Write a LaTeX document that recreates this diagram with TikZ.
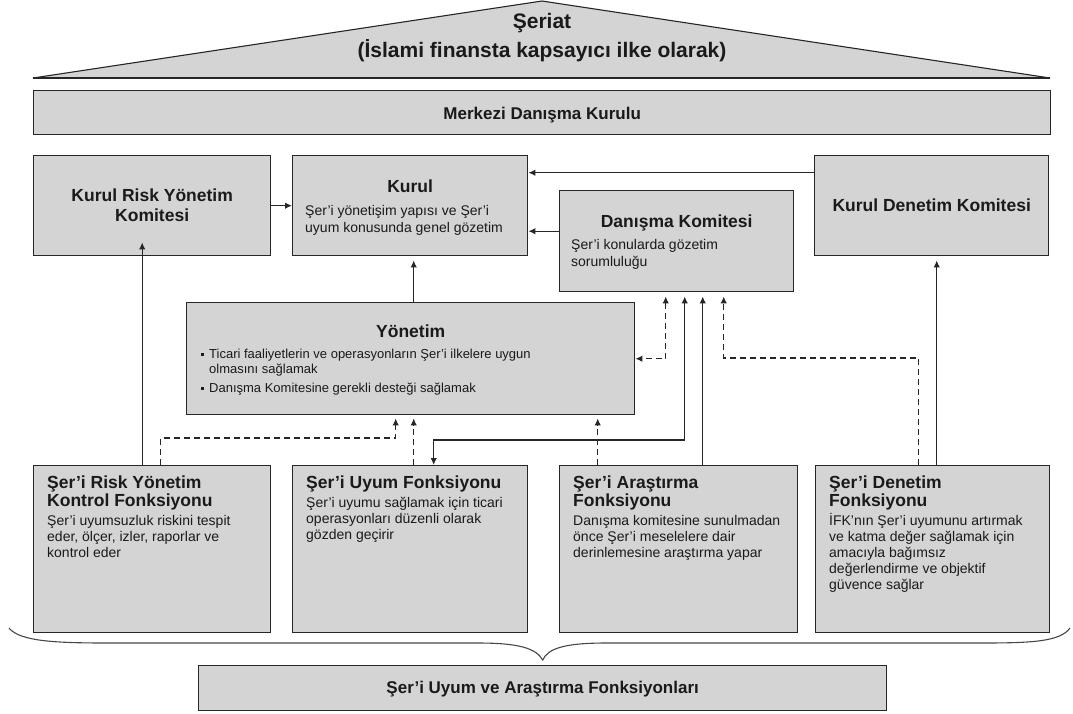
\documentclass[tikz,border=0pt]{standalone}
\usepackage{fontspec}
\setmainfont{Liberation Sans}
\usetikzlibrary{arrows.meta,calc}
\definecolor{boxgray}{HTML}{D4D4D4}
\definecolor{linegray}{HTML}{262626}
\definecolor{textgray}{HTML}{1A1A1A}
\newcommand{\bul}{\makebox[8pt][l]{\raisebox{2.5pt}{\rule{2.6pt}{2.6pt}}}}

\begin{document}
\begin{tikzpicture}[x=1pt,y=-1pt,
    >={Latex[length=7pt,width=6.5pt]},
    box/.style={draw=linegray, fill=boxgray, line width=1.4pt, inner sep=0pt, anchor=north west},
    head/.style={font=\fontsize{17.5}{20}\selectfont\bfseries, text=textgray, inner sep=0pt},
    fhead/.style={head, font=\fontsize{17.5}{18.5}\selectfont\bfseries, align=left, anchor=north west},
    body/.style={font=\fontsize{14}{16}\selectfont, text=textgray, inner sep=0pt, align=left, anchor=north west},
    link/.style={draw=linegray, line width=1.3pt, ->},
    dlink/.style={link, dash pattern=on 6pt off 4pt}]
    \useasboundingbox (0,0) rectangle (1073,713);

    % roof
    \filldraw[fill=boxgray, draw=linegray, line width=1.1pt] (33,78) -- (542,1) -- (1050,78) -- cycle;
    \draw[linegray, line width=2pt] (33,78) -- (1050,78);
    \node[head, anchor=base, font=\fontsize{21}{24}\selectfont\bfseries] (seriat) at (542,28.5) {Şeriat};
    \node[head, anchor=base, font=\fontsize{21}{24}\selectfont\bfseries] (kapsam) at (542,57) {(İslami finansta kapsayıcı ilke olarak)};

    \node[box, minimum width=1017pt, minimum height=44pt] (mdk) at (33,90) {};
    \node[head, anchor=base, font=\fontsize{17}{20}\selectfont\bfseries] at ($(mdk.north)+(0,29)$) {Merkezi Danışma Kurulu};

    % upper row
    \node[box, minimum width=237pt, minimum height=100pt] (krk) at (33,155) {};
    \node[box, minimum width=235pt, minimum height=100pt] (kurul) at (292,155) {};
    \node[box, minimum width=234pt, minimum height=100pt] (kdk) at (814,155) {};
    \node[box, minimum width=234pt, minimum height=101pt] (dk) at (559,190) {};
    \node[box, minimum width=448pt, minimum height=112pt] (yon) at (186,302) {};

    \node[head, align=center, anchor=north] at ($(krk.north)+(0,30)$) {\rule{0pt}{16pt}Kurul Risk Yönetim\\Komitesi};
    \node[head, anchor=base] at ($(kurul.north)+(0,37)$) {Kurul};
    \node[body, font=\fontsize{14}{17.5}\selectfont] at ($(kurul.north west)+(13,47)$) {\rule{0pt}{13pt}Şer’i yönetişim yapısı ve Şer’i\\uyum konusunda genel gözetim};
    \node[head, anchor=base] at ($(kdk.north)+(0,56)$) {Kurul Denetim Komitesi};
    \node[head, anchor=base] at ($(dk.north)+(0,37)$) {Danışma Komitesi};
    \node[body, font=\fontsize{14}{17}\selectfont] at ($(dk.north west)+(12,46)$) {\rule{0pt}{13pt}Şer’i konularda gözetim\\sorumluluğu};
    \node[head, anchor=base] at ($(yon.north)+(0,35)$) {Yönetim};
    \node[body, font=\fontsize{13}{15}\selectfont] at ($(yon.north west)+(15,43)$) {\rule{0pt}{13pt}\bul Ticari faaliyetlerin ve operasyonların Şer’i ilkelere uygun\\\hspace*{8pt}olmasını sağlamak\\[4pt]\bul Danışma Komitesine gerekli desteği sağlamak};

    % functions
    \node[box, minimum width=237pt, minimum height=167pt] (rkf) at (33,465) {};
    \node[box, minimum width=235pt, minimum height=167pt] (ufk) at (292,465) {};
    \node[box, minimum width=238pt, minimum height=167pt] (akf) at (559,465) {};
    \node[box, minimum width=234pt, minimum height=167pt] (dkf) at (815,465) {};

    \node[fhead] at ($(rkf.north west)+(14,7)$) {\rule{0pt}{16pt}Şer’i Risk Yönetim\\Kontrol Fonksiyonu};
    \node[body] at ($(rkf.north west)+(14,47)$) {\rule{0pt}{13pt}Şer’i uyumsuzluk riskini tespit\\eder, ölçer, izler, raporlar ve\\kontrol eder};
    \node[fhead] at ($(ufk.north west)+(14,7)$) {\rule{0pt}{16pt}Şer’i Uyum Fonksiyonu};
    \node[body] at ($(ufk.north west)+(14,29)$) {\rule{0pt}{13pt}Şer’i uyumu sağlamak için ticari\\operasyonları düzenli olarak\\gözden geçirir};
    \node[fhead] at ($(akf.north west)+(14,7)$) {\rule{0pt}{16pt}Şer’i Araştırma\\Fonksiyonu};
    \node[body] at ($(akf.north west)+(14,47)$) {\rule{0pt}{13pt}Danışma komitesine sunulmadan\\önce Şer’i meselelere dair\\derinlemesine araştırma yapar};
    \node[fhead] at ($(dkf.north west)+(14,7)$) {\rule{0pt}{16pt}Şer’i Denetim\\Fonksiyonu};
    \node[body] at ($(dkf.north west)+(14,47)$) {\rule{0pt}{13pt}İFK’nın Şer’i uyumunu artırmak\\ve katma değer sağlamak için\\amacıyla bağımsız\\değerlendirme ve objektif\\güvence sağlar};

    \node[box, minimum width=688pt, minimum height=45pt] (uaf) at (198,665) {};
    \node[head, anchor=base, font=\fontsize{17}{20}\selectfont\bfseries] at ($(uaf.north)+(0,28)$) {Şer’i Uyum ve Araştırma Fonksiyonları};

    % brace
    \draw[linegray!85, line width=1.1pt] (1070,628) .. controls (1060,642) and (1030,643) .. (980,643) -- (606,643)
        .. controls (566,643) and (548,648) .. ($(uaf.north)+(0,-5)$)
        .. controls (536,648) and (518,643) .. (478,643) -- (110,643) .. controls (60,643) and (20,642) .. (9,628);

    % connectors
    \draw[link] ($(rkf.north)+(-10,0)$) -- ($(krk.south)+(-10,-14)$);
    \draw[link] (krk.east) -- (kurul.west);
    \draw[link] ($(kdk.west)+(0,-33)$) -- ($(kurul.east)+(0,-33)$);
    \draw[link] ($(dk.west)+(0,-10)$) -- ($(kurul.east)+(0,25.5)$);
    \draw[link, shorten >=4pt] ($(yon.north)+(3,0)$) -- ($(kurul.south)+(3.5,0)$);
    \draw[link, shorten >=4pt] ($(dkf.north)+(4,0)$) -- ($(kdk.south)+(5,0)$);
    \draw[dlink, shorten >=3pt] ($(rkf.north)+(8.5,0)$) -- ++(0,-27) -| ($(yon.south)+(-15,0)$);
    \draw[dlink, shorten >=3pt] ($(ufk.north)+(3.5,0)$) -- ($(yon.south)+(3,0)$);
    \draw[link, <->, shorten <=4pt] ($(dk.south)+(8,0)$) |- ($(ufk.north)+(23.5,-25)$) -- ($(ufk.north)+(23.5,0)$);
    \draw[dlink, <->, shorten <=4pt] ($(dk.south)+(-11,0)$) |- (yon.east);
    \draw[link, shorten >=4pt] ($(akf.north)+(24,0)$) -- ($(dk.south)+(26,0)$);
    \draw[dlink, shorten >=4pt] ($(dkf.north)+(-14,0)$) -- ++(0,-107) -| ($(dk.south)+(47,0)$);
    \draw[dlink, shorten >=3pt] ($(akf.north)+(-81,0)$) -- ($(yon.south)+(187,0)$);
\end{tikzpicture}
\end{document}
